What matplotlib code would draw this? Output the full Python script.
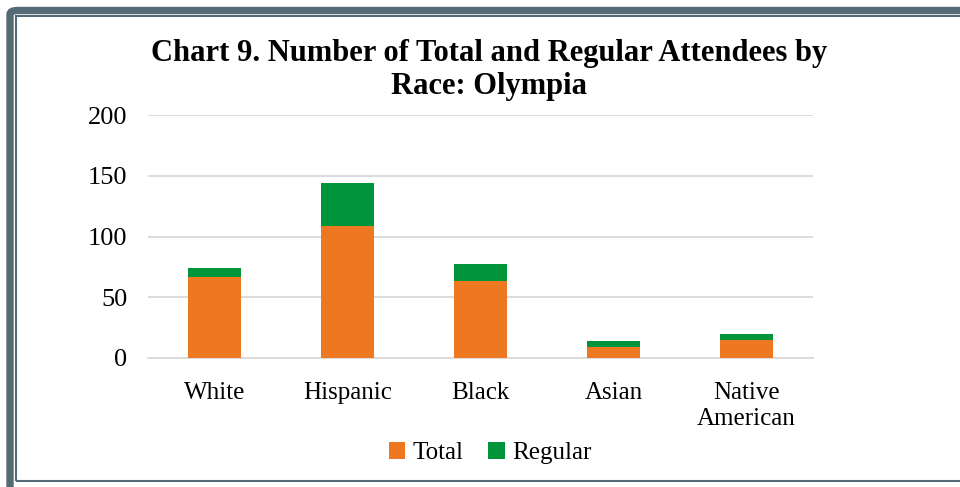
import numpy as np
import matplotlib.pyplot as plt
from matplotlib.patches import FancyBboxPatch, Rectangle

categories = ['White', 'Hispanic', 'Black', 'Asian', 'Native\nAmerican']
total = [67, 109, 63, 9, 15]
regular = [7, 35, 14, 5, 5]

orange = '#EE7722'
green = '#00953A'
frame = '#546B76'

plt.rcParams['font.family'] = ['Liberation Serif', 'DejaVu Serif']

fig = plt.figure(figsize=(9.6, 4.87), dpi=100)
W, H = 960, 487

# frame: thick outer border, thin inner line
fig.patches.append(FancyBboxPatch((10 / W, -30 / H), 1000 / W, (476.5 + 30) / H,
                                  boxstyle='round,pad=0,rounding_size=0.008',
                                  transform=fig.transFigure, facecolor='none',
                                  edgecolor=frame, linewidth=5.3, zorder=0))
fig.patches.append(Rectangle((16 / W, 6.5 / H), 960 / W, 464.5 / H,
                             transform=fig.transFigure, facecolor='none',
                             edgecolor=frame, linewidth=1.5, zorder=0))

ax = fig.add_axes([148 / W, 129 / H, 665 / W, 243 / H])
x = np.arange(len(categories))
ax.bar(x, total, width=0.4, color=orange, label='Total', zorder=3)
ax.bar(x, regular, width=0.4, bottom=total, color=green, label='Regular', zorder=3)

ax.set_xlim(-0.5, len(categories) - 0.5)
ax.set_ylim(0, 200)
ax.set_yticks([0, 50, 100, 150, 200])
ax.yaxis.grid(True, color='#D9D9D9', linewidth=1.3, zorder=0)
ax.set_axisbelow(True)
for s in ['top', 'right', 'left']:
    ax.spines[s].set_visible(False)
ax.spines['bottom'].set_color('#D9D9D9')
ax.spines['bottom'].set_linewidth(1.3)
ax.tick_params(length=0, colors='black')
ax.tick_params(axis='y', pad=15, labelsize=19)
ax.tick_params(axis='x', pad=17, labelsize=18)
ax.set_xticks(x)
ax.set_xticklabels(categories, linespacing=1.25)

fig.text(489 / W, 1 - 70 / H, 'Chart 9. Number of Total and Regular Attendees by\nRace: Olympia',
         ha='center', va='center', fontsize=22, fontweight='bold', linespacing=1.18)

ax.legend(loc='center', bbox_to_anchor=(490 / W, 1 - 453 / H), bbox_transform=fig.transFigure,
          ncol=2, frameon=False, fontsize=18, handlelength=0.65, handleheight=0.65,
          handletextpad=0.3, columnspacing=1.0)

fig.savefig('out.png', dpi=100)
